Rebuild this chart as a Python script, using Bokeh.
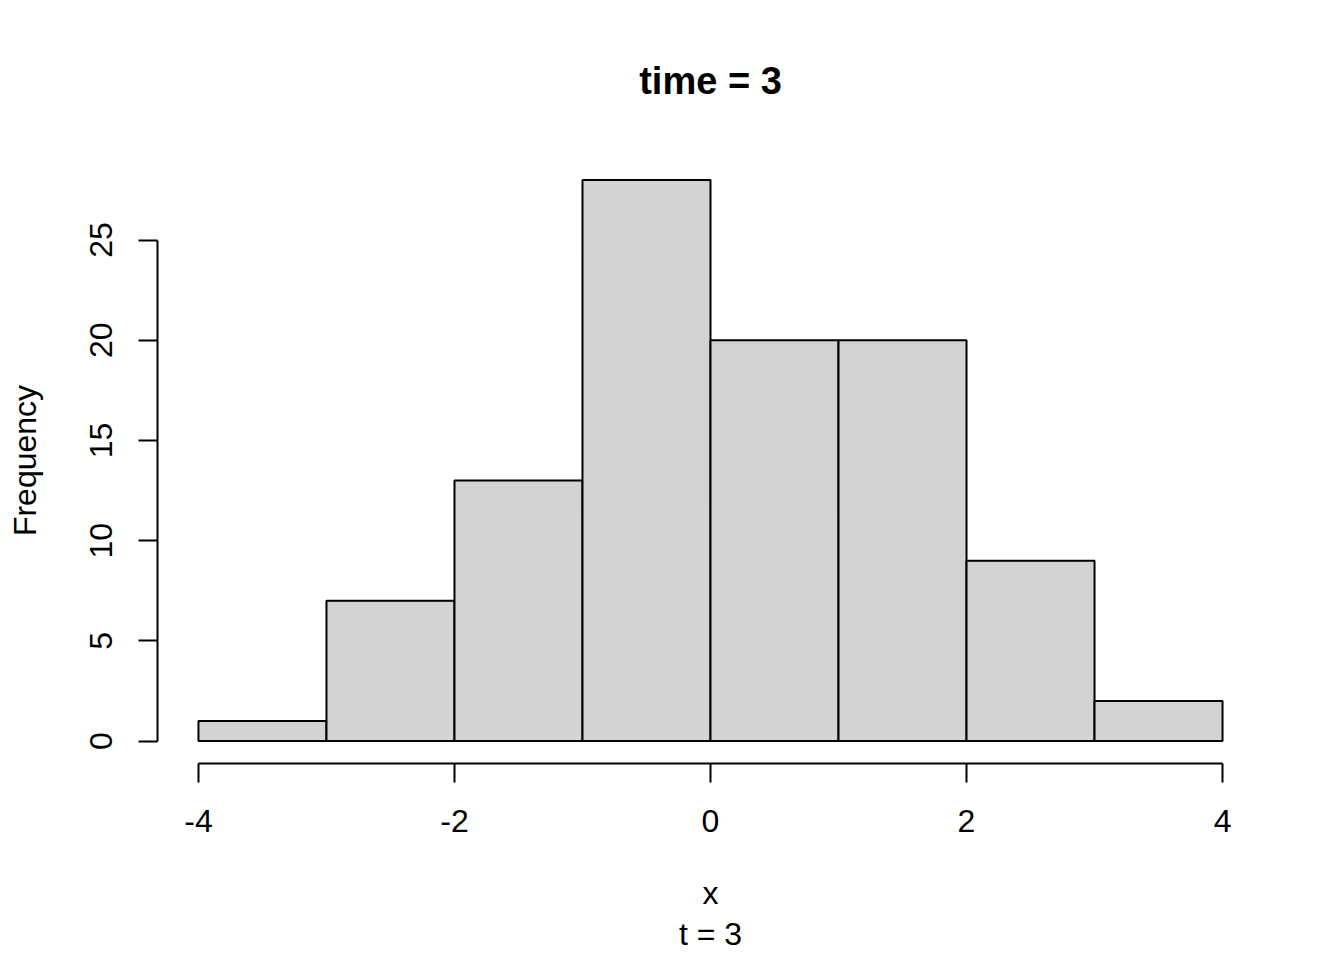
from bokeh.plotting import figure
from bokeh.models import Range1d, FixedTicker, Title, CustomJSTickFormatter
from bokeh.embed import file_html
from bokeh.resources import INLINE

# Data (histogram of x at time = 3)
bin_left = [-4, -3, -2, -1, 0, 1, 2, 3]
bin_right = [-3, -2, -1, 0, 1, 2, 3, 4]
counts = [1, 7, 13, 28, 20, 20, 9, 2]
x_ticks = [-4, -2, 0, 2, 4]
y_ticks = [0, 5, 10, 15, 20, 25]
title_text = "time = 3"
xlab = "x"
sub_text = "t = 3"
ylab = "Frequency"

FONT = "Liberation Sans"

p = figure(width=1336, height=952, output_backend="svg", toolbar_location=None,
           x_range=Range1d(-4.32, 4.32), y_range=Range1d(-1.12, 29.12),
           min_border_left=157, min_border_right=73, min_border_top=157,
           min_border_bottom=189)
p.outline_line_color = None
p.grid.visible = False
p.background_fill_color = "white"
p.border_fill_color = "white"

p.quad(left=bin_left, right=bin_right, bottom=0, top=counts,
       fill_color="#D3D3D3", line_color="black", line_width=2)

for ax, ticks in ((p.xaxis[0], x_ticks), (p.yaxis[0], y_ticks)):
    ax.ticker = FixedTicker(ticks=ticks)
    ax.bounds = (min(ticks), max(ticks))
    ax.formatter = CustomJSTickFormatter(code="return String(tick);")
    ax.axis_line_width = 2
    ax.major_tick_line_width = 2
    ax.major_tick_out = 19
    ax.major_tick_in = 0
    ax.minor_tick_line_color = None
    ax.major_label_text_font = FONT
    ax.major_label_text_font_size = "32px"
    ax.major_label_text_color = "black"
    ax.axis_line_color = "black"
    ax.major_tick_line_color = "black"
    ax.axis_label_text_font = FONT
    ax.axis_label_text_font_size = "32px"
    ax.axis_label_text_font_style = "normal"
    ax.axis_label_text_color = "black"
    ax.axis_label_text_line_height = 1.0

p.xaxis[0].major_label_standoff = 27
p.xaxis[0].axis_label = xlab
p.xaxis[0].axis_label_standoff = 40
p.yaxis[0].major_label_orientation = "vertical"
p.yaxis[0].major_label_standoff = 26
p.yaxis[0].axis_label = ylab
p.yaxis[0].axis_label_standoff = 45

p.title.text = title_text
p.title.align = "center"
p.title.text_font = FONT
p.title.text_font_size = "38px"
p.title.text_font_style = "bold"
p.title.text_color = "black"
p.title.text_line_height = 1.0
p.title.standoff = 111

p.add_layout(Title(text=sub_text, align="center", text_font=FONT,
                   text_font_size="32px", text_font_style="normal",
                   text_color="black", text_line_height=0.8, standoff=0), "below")

open("out.html", "w").write(file_html(p, INLINE))
